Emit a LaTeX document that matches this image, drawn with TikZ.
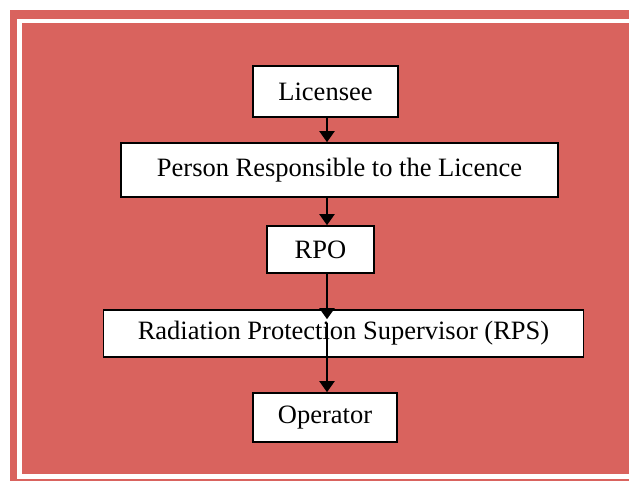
\documentclass[tikz,border=0pt]{standalone}
\usepackage{fontspec}
\setmainfont{Liberation Serif}
\usetikzlibrary{arrows.meta,calc}
\definecolor{bgred}{RGB}{217,99,94}
\tikzset{
  orgbox/.style={draw=black, fill=white, line width=1.6pt, inner sep=0pt, font=\fontsize{26.5}{30}\selectfont},
  orgarrow/.style={draw=black, line width=2pt, -{Triangle[width=15pt,length=11pt]}}
}
\begin{document}
\begin{tikzpicture}[x=1pt,y=-1pt]
\useasboundingbox (0,0) rectangle (629,481);
\begin{scope}
\clip (0,0) rectangle (629,481);
\fill[bgred] (10,10) rectangle (700,500);
\draw[white, line width=4.5pt] (700,20.8) -- (19.3,20.8) -- (19.3,476.3) -- (700,476.3);
\end{scope}
\coordinate (ax) at (327,0);
\node[orgbox, minimum width=145pt, minimum height=51pt] (lic) at (325.5,91.5) {Licensee};
\node[orgbox, minimum width=437pt, minimum height=54pt] (prl) at (339.5,170) {Person Responsible to the Licence};
\node[orgbox, minimum width=107pt, minimum height=47pt] (rpo) at (320.5,249.5) {RPO};
\node[orgbox, minimum width=480pt, minimum height=47pt] (rps) at (343.5,333.5) {Radiation Protection Supervisor (RPS)};
\node[orgbox, minimum width=144pt, minimum height=49pt] (op) at (325,417.5) {Operator};
\draw[orgarrow] (lic.south -| ax) -- (prl.north -| ax);
\draw[orgarrow] (prl.south -| ax) -- (rpo.north -| ax);
\draw[orgarrow] (rpo.south -| ax) -- ($(rps.north -| ax)+(0,10)$);
\draw[orgarrow] ($(rps.north -| ax)+(0,14)$) -- (op.north -| ax);
\end{tikzpicture}
\end{document}
